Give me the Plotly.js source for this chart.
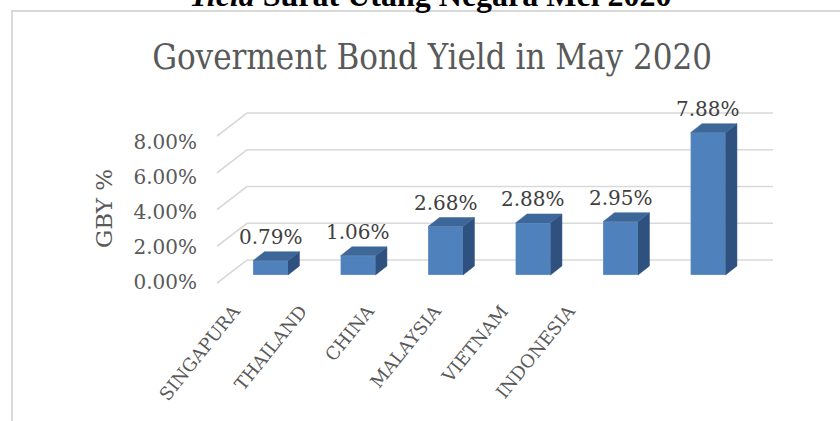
<!DOCTYPE html>
<html>
<head>
<meta charset="utf-8">
<script src="https://cdn.plot.ly/plotly-3.0.1.min.js"></script>
<style>html,body{margin:0;padding:0;background:#fff;}#chart{width:840px;height:421px;}</style>
</head>
<body>
<div id="chart"></div>
<script>
// ---- data ----
const categories = ["SINGAPURA", "THAILAND", "CHINA", "MALAYSIA", "VIETNAM", "INDONESIA"];
const yields = [0.79, 1.06, 2.68, 2.88, 2.95, 7.88];
const valueLabels = ["0.79%", "1.06%", "2.68%", "2.88%", "2.95%", "7.88%"];
const tickValues = [0, 2, 4, 6, 8];
const tickLabels = ["0.00%", "2.00%", "4.00%", "6.00%", "8.00%"];

// ---- geometry / style ----
const W = 840, H = 421;
const serif = "DejaVu Serif, Liberation Serif, serif";
const grey = "#595959";
const barW = 0.4;          // front face width (category units)
const depthX = 0.131;      // 3D depth offset, x (category units)
const depthY = 0.5;        // 3D depth offset, y (value units)
const wallLeft = -0.611, wallCorner = -0.269, wallRight = 5.743; // x on category scale
const wallRise = 1.2517;   // rise of wall line from front edge to back wall (value units)
const frontCol = "#4F81BD", topCol = "#3D6699", sideCol = "#2F5180";

const idx = categories.map((_, i) => i);
const traces = [];

// back wall / floor grid lines (base subplot)
tickValues.forEach(t => {
  traces.push({
    type: "scatter", mode: "lines", xaxis: "x", yaxis: "y",
    x: [wallLeft, wallCorner, wallRight],
    y: [t, t + wallRise, t + wallRise],
    line: {color: "#D9D9D9", width: 1.6},
    hoverinfo: "skip", showlegend: false
  });
});

// axis-label carrier (invisible) for category labels and value tick labels
traces.push({
  type: "scatter", mode: "none", xaxis: "x3", yaxis: "y3",
  x: categories, y: yields, hoverinfo: "skip", showlegend: false
});

// front faces
traces.push({
  type: "bar", xaxis: "x2", yaxis: "y2",
  x: idx, y: yields, width: barW,
  marker: {color: frontCol, line: {color: "rgba(255,255,255,0.45)", width: 0.6}},
  hoverinfo: "skip", showlegend: false
});

// side & top faces
idx.forEach(i => {
  const v = yields[i];
  const xr = i + barW / 2, xl = i - barW / 2;
  traces.push({
    type: "scatter", mode: "lines", xaxis: "x2", yaxis: "y2",
    x: [xr, xr + depthX, xr + depthX, xr, xr],
    y: [0, depthY, v + depthY, v, 0],
    fill: "toself", fillcolor: sideCol, line: {color: sideCol, width: 0.5},
    hoverinfo: "skip", showlegend: false
  });
  traces.push({
    type: "scatter", mode: "lines", xaxis: "x2", yaxis: "y2",
    x: [xl, xr, xr + depthX, xl + depthX, xl],
    y: [v, v, v + depthY, v + depthY, v],
    fill: "toself", fillcolor: topCol, line: {color: topCol, width: 0.5},
    hoverinfo: "skip", showlegend: false
  });
});

// scales: pixel = zeroPx +/- pxPerUnit*value
function rangeFor(zeroPx, pxPerUnit) { return [(zeroPx - H) / pxPerUnit, zeroPx / pxPerUnit]; }
function xRange(zeroPx, pxPerUnit) { return [-zeroPx / pxPerUnit, (W - zeroPx) / pxPerUnit]; }

const annotations = idx.map(i => ({
  xref: "x2", yref: "y2", x: i, y: yields[i] + depthY,
  text: valueLabels[i], showarrow: false, xanchor: "center", yanchor: "bottom", yshift: 1,
  font: {family: serif, size: 20, color: "#404040"}
}));
annotations.push({
  xref: "paper", yref: "paper", x: 104 / W, y: 1 - 209 / H,
  text: "GBY %", showarrow: false, textangle: -90, xanchor: "center", yanchor: "middle",
  font: {family: serif, size: 23, color: grey}
});
annotations.push({
  xref: "paper", yref: "paper", x: 431 / W, y: 1 - 15 / H,
  text: "<i>Yield</i> Surat Utang Negara Mei 2020", showarrow: false,
  xanchor: "center", yanchor: "bottom",
  font: {family: "Liberation Serif, serif", size: 32, color: "#000", weight: "bold"}
});

const layout = {
  width: W, height: H,
  margin: {l: 0, r: 0, t: 0, b: 0, pad: 0},
  paper_bgcolor: "#fff", plot_bgcolor: "rgba(0,0,0,0)",
  showlegend: false,
  title: {
    text: "Goverment Bond Yield in May 2020",
    font: {family: "DejaVu Serif Condensed, DejaVu Serif, serif", size: 34.5, color: grey},
    x: 432 / W, xanchor: "center", y: 1 - 57 / H, yanchor: "middle", yref: "container"
  },
  xaxis: {domain: [0, 1], range: xRange(270.5, 87.5), visible: false, fixedrange: true},
  yaxis: {domain: [0, 1], range: rangeFor(283, 18.375), visible: false, fixedrange: true},
  xaxis2: {overlaying: "x", range: xRange(270.5, 87.5), visible: false},
  yaxis2: {overlaying: "y", range: rangeFor(275, 18.06), visible: false},
  xaxis3: {
    overlaying: "x", type: "category", categoryarray: categories, categoryorder: "array",
    range: xRange(234, 67), anchor: "free", position: 1 - 296 / H, side: "bottom",
    tickangle: -51, showgrid: false, zeroline: false, showline: false, ticks: "",
    tickfont: {family: serif, size: 18, color: grey}
  },
  yaxis3: {
    overlaying: "y", range: rangeFor(282, 17.56), anchor: "free", position: 197 / W, side: "left",
    tickvals: tickValues, ticktext: tickLabels, showgrid: false, zeroline: false, showline: false,
    ticks: "", tickfont: {family: serif, size: 20, color: grey}
  },
  shapes: [{
    type: "rect", xref: "paper", yref: "paper",
    x0: 12 / W, x1: 1.05, y0: -0.05, y1: 1 - 11 / H,
    line: {color: "#D9D9D9", width: 2}, layer: "below"
  }],
  annotations: annotations
};

Plotly.newPlot("chart", traces, layout, {staticPlot: true, displayModeBar: false});
</script>
</body>
</html>
